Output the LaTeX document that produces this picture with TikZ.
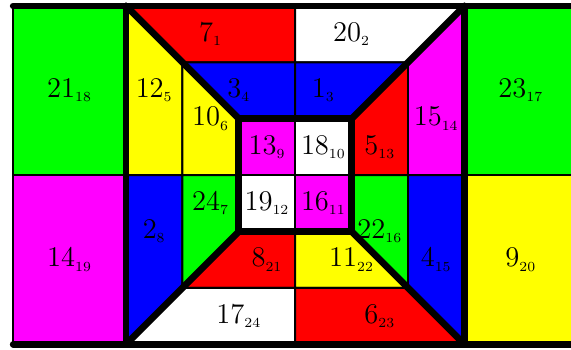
\documentclass[tikz,border=0pt]{standalone}
\definecolor{cmag}{RGB}{255,0,255}
\definecolor{cred}{RGB}{255,0,0}
\definecolor{cgreen}{RGB}{0,255,0}
\definecolor{cblue}{RGB}{0,0,255}
\definecolor{cyel}{RGB}{255,255,0}
\begin{document}
\begin{tikzpicture}[x=1cm, y=-1cm,
  cell/.style={draw=black, line width=1pt, line join=round},
  heavy/.style={draw=black, line width=3.4pt, line cap=round, line join=round},
  lab/.style={font=\Large, inner sep=0pt}]
\useasboundingbox (-2.234,-0.106) rectangle (7.890,6.082);
\begin{scope}
\clip (-2.234,-0.106) rectangle (7.890,6.082);
% outer blocks
\filldraw[cell, fill=cgreen] (-2,0) rectangle (0,3);
\filldraw[cell, fill=cmag]   (-2,3) rectangle (0,6);
\filldraw[cell, fill=cgreen] (6,0) rectangle (8.5,3);
\filldraw[cell, fill=cyel]   (6,3) rectangle (8.5,6);
% top band
\filldraw[cell, fill=cred]  (0,0) -- (3,0) -- (3,1) -- (1,1) -- cycle;
\filldraw[cell, fill=white] (3,0) -- (6,0) -- (5,1) -- (3,1) -- cycle;
% upper middle
\filldraw[cell, fill=cyel]  (0,0) -- (1,1) -- (1,3) -- (0,3) -- cycle;
\filldraw[cell, fill=cblue] (1,1) -- (3,1) -- (3,2) -- (2,2) -- cycle;
\filldraw[cell, fill=cblue] (3,1) -- (5,1) -- (4,2) -- (3,2) -- cycle;
\filldraw[cell, fill=cyel]  (1,1) -- (2,2) -- (2,3) -- (1,3) -- cycle;
\filldraw[cell, fill=cmag]  (6,0) -- (6,3) -- (5,3) -- (5,1) -- cycle;
\filldraw[cell, fill=cred]  (5,1) -- (5,3) -- (4,3) -- (4,2) -- cycle;
\filldraw[cell, fill=cmag]  (2,2) rectangle (3,3);
\filldraw[cell, fill=white] (3,2) rectangle (4,3);
% lower middle
\filldraw[cell, fill=cblue]  (0,3) -- (1,3) -- (1,5) -- (0,6) -- cycle;
\filldraw[cell, fill=cgreen] (1,3) -- (2,3) -- (2,4) -- (1,5) -- cycle;
\filldraw[cell, fill=white]  (2,3) rectangle (3,4);
\filldraw[cell, fill=cmag]   (3,3) rectangle (4,4);
\filldraw[cell, fill=cgreen] (4,3) -- (5,3) -- (5,5) -- (4,4) -- cycle;
\filldraw[cell, fill=cblue]  (5,3) -- (6,3) -- (6,6) -- (5,5) -- cycle;
\filldraw[cell, fill=cred]   (2,4) -- (3,4) -- (3,5) -- (1,5) -- cycle;
\filldraw[cell, fill=cyel]   (3,4) -- (4,4) -- (5,5) -- (3,5) -- cycle;
% bottom band
\filldraw[cell, fill=white] (1,5) -- (3,5) -- (3,6) -- (0,6) -- cycle;
\filldraw[cell, fill=cred]  (3,5) -- (5,5) -- (6,6) -- (3,6) -- cycle;
% heavy lines
\draw[heavy] (-2,0) -- (9,0);
\draw[heavy] (-2,6) -- (9,6);
\draw[heavy] (0,0) -- (0,6);
\draw[heavy] (6,0) -- (6,6);
\draw[heavy] (0,0) -- (2,2);
\draw[heavy] (6,0) -- (4,2);
\draw[heavy] (0,6) -- (2,4);
\draw[heavy] (6,6) -- (4,4);
\draw[heavy] (2,2) rectangle (4,4);
\end{scope}
% labels
\node[lab] (n21) at (-1,1.5) {$21_{\scriptscriptstyle 18}$};
\node[lab] (n14) at (-1,4.5) {$14_{\scriptscriptstyle 19}$};
\node[lab] (n23) at (7,1.5) {$23_{\scriptscriptstyle 17}$};
\node[lab] (n9)  at (7,4.5) {$9_{\scriptscriptstyle 20}$};
\node[lab] (n7)  at (1.5,0.5) {$7_{\scriptscriptstyle 1}$};
\node[lab] (n20) at (4,0.5) {$20_{\scriptscriptstyle 2}$};
\node[lab] (n12) at (0.5,1.5) {$12_{\scriptscriptstyle 5}$};
\node[lab] (n3)  at (2,1.5) {$3_{\scriptscriptstyle 4}$};
\node[lab] (n1)  at (3.5,1.5) {$1_{\scriptscriptstyle 3}$};
\node[lab] (n10) at (1.5,2) {$10_{\scriptscriptstyle 6}$};
\node[lab] (n15) at (5.5,2) {$15_{\scriptscriptstyle 14}$};
\node[lab] (n13) at (2.5,2.5) {$13_{\scriptscriptstyle 9}$};
\node[lab] (n18) at (3.5,2.5) {$18_{\scriptscriptstyle 10}$};
\node[lab] (n5)  at (4.5,2.5) {$5_{\scriptscriptstyle 13}$};
\node[lab] (n24) at (1.5,3.5) {$24_{\scriptscriptstyle 7}$};
\node[lab] (n19) at (2.5,3.5) {$19_{\scriptscriptstyle 12}$};
\node[lab] (n16) at (3.5,3.5) {$16_{\scriptscriptstyle 11}$};
\node[lab] (n2)  at (0.5,4) {$2_{\scriptscriptstyle 8}$};
\node[lab] (n22) at (4.5,4) {$22_{\scriptscriptstyle 16}$};
\node[lab] (n8)  at (2.5,4.5) {$8_{\scriptscriptstyle 21}$};
\node[lab] (n11) at (4,4.5) {$11_{\scriptscriptstyle 22}$};
\node[lab] (n4)  at (5.5,4.5) {$4_{\scriptscriptstyle 15}$};
\node[lab] (n17) at (2,5.5) {$17_{\scriptscriptstyle 24}$};
\node[lab] (n6)  at (4.5,5.5) {$6_{\scriptscriptstyle 23}$};
\end{tikzpicture}
\end{document}
